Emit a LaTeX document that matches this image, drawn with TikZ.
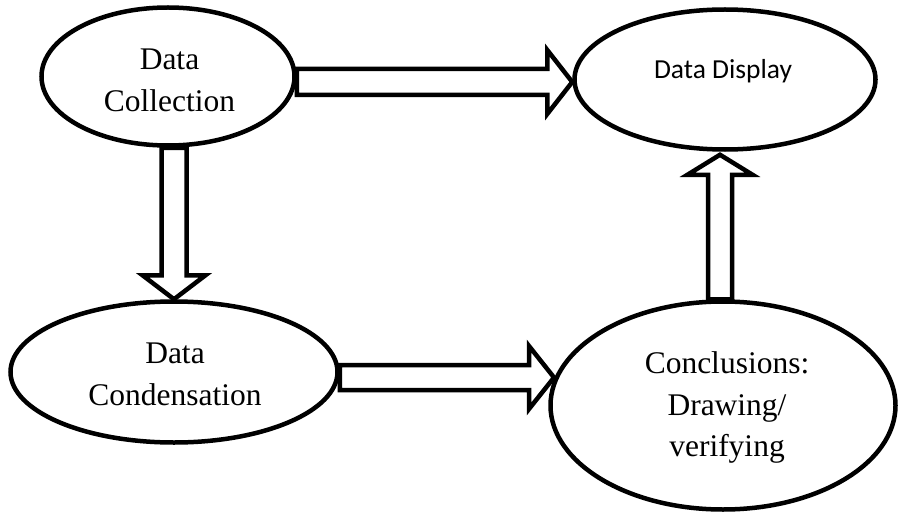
\documentclass[tikz,border=0pt]{standalone}
\usepackage{fontspec}
\setmainfont{Liberation Serif}
\newfontfamily\calib{Carlito}
\usetikzlibrary{shapes.geometric,calc}
% block arrow: start, end, shaft half width, head half width, head length
\newcommand\blockarrow[5]{%
  \coordinate (hb) at ($(#2)!#5!(#1)$);
  \draw[blk] ($(#1)!#3!90:(#2)$) -- ($(hb)!#3!90:(#2)$) -- ($(hb)!#4!90:(#2)$) -- (#2)
    -- ($(hb)!#4!-90:(#2)$) -- ($(hb)!#3!-90:(#2)$) -- ($(#1)!#3!-90:(#2)$) -- cycle;}
\begin{document}
\begin{tikzpicture}[x=1pt,y=-1pt,
  oval/.style={ellipse,draw,line width=4.5pt,inner sep=0pt,fill=white},
  blk/.style={draw,line width=4.5pt,line join=miter,fill=white},
  lbl/.style={align=center,font=\fontsize{31.5}{41.5}\selectfont,inner sep=0pt},
  lbls/.style={font=\calib\fontsize{27.5}{33}\selectfont,inner sep=0pt}]
\useasboundingbox[fill=white] (0,0) rectangle (899,516);
\node[oval,minimum width=253pt,minimum height=138pt] (c1) at (168,76.5) {};
\node[oval,minimum width=301pt,minimum height=140pt] (c2) at (725,79.5) {};
\node[oval,minimum width=327pt,minimum height=141pt] (c3) at (174,372) {};
\node[oval,minimum width=345pt,minimum height=208pt] (c4) at (723,405.5) {};
\node[lbl] (t1) at (169.5,80.5) {Data\\Collection};
\node[lbls] (t2) at (723,71) {Data Display};
\node[lbl] (t3) at (175,374.5) {Data\\Condensation};
\node[lbl] (t4) at (727,407.5) {Conclusions:\\Drawing/\\verifying};
% connectors
\coordinate (a1s) at ($(c1.east)+(0,5.5)$);
\coordinate (a1e) at ($(c2.west)+(0,2.5)$);
\blockarrow{a1s}{a1e}{13pt}{32pt}{25pt}
\coordinate (a2e) at (c3.north);
\coordinate (a2s) at (c1.south -| a2e);
\blockarrow{a2s}{a2e}{12.5pt}{31.5pt}{24pt}
\coordinate (a3s) at ($(c3.east)+(0,5.5)$);
\coordinate (a3e) at (554,377.5);
\blockarrow{a3s}{a3e}{12.5pt}{31.5pt}{25pt}
\coordinate (a4e) at ($(c2.south)+(-5,3)$);
\coordinate (a4s) at (c4.north -| a4e);
\blockarrow{a4s}{a4e}{12pt}{32.5pt}{20pt}
\end{tikzpicture}
\end{document}
